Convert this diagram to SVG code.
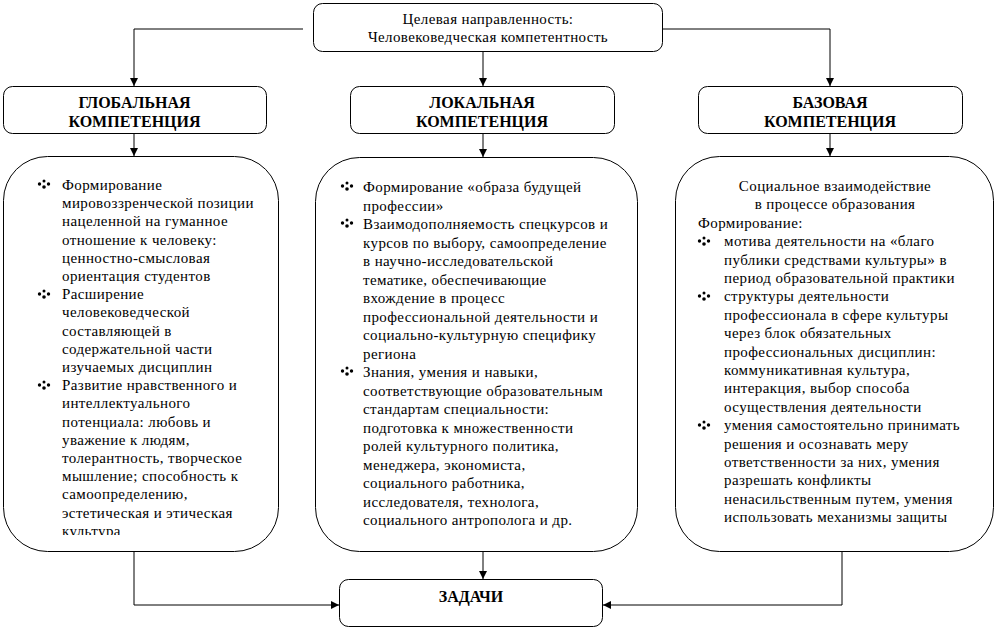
<svg xmlns="http://www.w3.org/2000/svg" width="998" height="630" viewBox="0 0 998 630">
<style>
.box{fill:#fff;stroke:#000;stroke-width:1}
.t{font-family:"Liberation Serif","Times New Roman",serif;font-size:15px;letter-spacing:0.4px;fill:#000}
.h{font-family:"Liberation Serif","Times New Roman",serif;font-size:16px;font-weight:bold;fill:#000;text-anchor:middle}
.c{text-anchor:middle}
.ln{fill:none;stroke:#000;stroke-width:1}
</style>
<defs>
<marker id="ah" markerUnits="userSpaceOnUse" markerWidth="8" markerHeight="8" refX="8" refY="4" orient="auto">
<path d="M0,0 L8,4 L0,8 z" fill="#000"/>
</marker>
<g id="bul">
<circle cx="0" cy="-3" r="1.5"/>
<circle cx="-4.5" cy="0" r="1.7"/>
<circle cx="4.5" cy="0" r="1.7"/>
<circle cx="0" cy="3" r="1.8"/>
</g>
<clipPath id="clipL"><rect x="0" y="150" width="300" height="385"/></clipPath>
</defs>
<rect width="998" height="630" fill="#fff"/>

<g id="connectors">
<path class="ln" d="M303,29 H134 V86" marker-end="url(#ah)"/>
<path class="ln" d="M483,52 V86" marker-end="url(#ah)"/>
<path class="ln" d="M651,29 H830 V86" marker-end="url(#ah)"/>
<path class="ln" d="M134,134 V156" marker-end="url(#ah)"/>
<path class="ln" d="M483,134 V157" marker-end="url(#ah)"/>
<path class="ln" d="M830,134 V156" marker-end="url(#ah)"/>
<path class="ln" d="M134,546 V605 H339" marker-end="url(#ah)"/>
<path class="ln" d="M483,546 V579" marker-end="url(#ah)"/>
<path class="ln" d="M842,546 V605 H603" marker-end="url(#ah)"/>
</g>

<g id="goal">
<rect class="box" x="313.5" y="3.5" width="349" height="48" rx="9"/>
<text class="t c" x="488" y="24">Целевая направленность:</text>
<text class="t c" x="488" y="42">Человековедческая компетентность</text>
</g>

<g id="global">
<rect class="box" x="3.5" y="86.5" width="263" height="47" rx="9"/>
<text class="h" x="134.5" y="108">ГЛОБАЛЬНАЯ</text>
<text class="h" x="134.5" y="127">КОМПЕТЕНЦИЯ</text>
</g>
<g id="local">
<rect class="box" x="350.5" y="86.5" width="264" height="47" rx="9"/>
<text class="h" x="482" y="108">ЛОКАЛЬНАЯ</text>
<text class="h" x="482" y="127">КОМПЕТЕНЦИЯ</text>
</g>
<g id="base">
<rect class="box" x="698.5" y="86.5" width="264" height="47" rx="9"/>
<text class="h" x="830" y="108">БАЗОВАЯ</text>
<text class="h" x="830" y="127">КОМПЕТЕНЦИЯ</text>
</g>

<g id="global-content">
<rect class="box" x="3.5" y="156.5" width="275" height="395" rx="44"/>
<use href="#bul" x="44" y="184"/>
<use href="#bul" x="44" y="294"/>
<use href="#bul" x="44" y="385"/>
<g clip-path="url(#clipL)">
<text class="t" x="62" y="190">Формирование</text>
<text class="t" x="62" y="208.2">мировоззренческой позиции</text>
<text class="t" x="62" y="226.4">нацеленной на гуманное</text>
<text class="t" x="62" y="244.6">отношение к человеку:</text>
<text class="t" x="62" y="262.8">ценностно-смысловая</text>
<text class="t" x="62" y="281">ориентация студентов</text>
<text class="t" x="62" y="299.2">Расширение</text>
<text class="t" x="62" y="317.4">человековедческой</text>
<text class="t" x="62" y="335.6">составляющей в</text>
<text class="t" x="62" y="353.8">содержательной части</text>
<text class="t" x="62" y="372">изучаемых дисциплин</text>
<text class="t" x="62" y="390.2">Развитие нравственного и</text>
<text class="t" x="62" y="408.4">интеллектуального</text>
<text class="t" x="62" y="426.6">потенциала: любовь и</text>
<text class="t" x="62" y="444.8">уважение к людям,</text>
<text class="t" x="62" y="463">толерантность, творческое</text>
<text class="t" x="62" y="481.2">мышление; способность к</text>
<text class="t" x="62" y="499.4">самоопределению,</text>
<text class="t" x="62" y="517.6">эстетическая и этическая</text>
<text class="t" x="62" y="535.8">культура</text>
</g>
</g>

<g id="local-content">
<rect class="box" x="315.5" y="157.5" width="322" height="394" rx="44"/>
<use href="#bul" x="347" y="186"/>
<use href="#bul" x="347" y="223"/>
<use href="#bul" x="347" y="371"/>
<text class="t" x="363" y="192">Формирование «образа будущей</text>
<text class="t" x="363" y="210.5">профессии»</text>
<text class="t" x="363" y="229">Взаимодополняемость спецкурсов и</text>
<text class="t" x="363" y="247.5">курсов по выбору, самоопределение</text>
<text class="t" x="363" y="266">в научно-исследовательской</text>
<text class="t" x="363" y="284.5">тематике, обеспечивающие</text>
<text class="t" x="363" y="303">вхождение в процесс</text>
<text class="t" x="363" y="321.5">профессиональной деятельности и</text>
<text class="t" x="363" y="340">социально-культурную специфику</text>
<text class="t" x="363" y="358.5">региона</text>
<text class="t" x="363" y="377">Знания, умения и навыки,</text>
<text class="t" x="363" y="395.5">соответствующие образовательным</text>
<text class="t" x="363" y="414">стандартам специальности:</text>
<text class="t" x="363" y="432.5">подготовка к множественности</text>
<text class="t" x="363" y="451">ролей культурного политика,</text>
<text class="t" x="363" y="469.5">менеджера, экономиста,</text>
<text class="t" x="363" y="488">социального работника,</text>
<text class="t" x="363" y="506.5">исследователя, технолога,</text>
<text class="t" x="363" y="525">социального антрополога и др.</text>
</g>

<g id="base-content">
<rect class="box" x="675.5" y="156.5" width="318" height="395" rx="44"/>
<use href="#bul" x="704" y="241"/>
<use href="#bul" x="704" y="296"/>
<use href="#bul" x="704" y="425"/>
<text class="t c" x="835" y="191">Социальное взаимодействие</text>
<text class="t c" x="835" y="209.4">в процессе образования</text>
<text class="t" x="698" y="227.8">Формирование:</text>
<text class="t" x="724" y="246.2">мотива деятельности на «благо</text>
<text class="t" x="724" y="264.6">публики средствами культуры» в</text>
<text class="t" x="724" y="283">период образовательной практики</text>
<text class="t" x="724" y="301.4">структуры деятельности</text>
<text class="t" x="724" y="319.8">профессионала в сфере культуры</text>
<text class="t" x="724" y="338.2">через блок обязательных</text>
<text class="t" x="724" y="356.6">профессиональных дисциплин:</text>
<text class="t" x="724" y="375">коммуникативная культура,</text>
<text class="t" x="724" y="393.4">интеракция, выбор способа</text>
<text class="t" x="724" y="411.8">осуществления деятельности</text>
<text class="t" x="724" y="430.2">умения самостоятельно принимать</text>
<text class="t" x="724" y="448.6">решения и осознавать меру</text>
<text class="t" x="724" y="467">ответственности за них, умения</text>
<text class="t" x="724" y="485.4">разрешать конфликты</text>
<text class="t" x="724" y="503.8">ненасильственным путем, умения</text>
<text class="t" x="724" y="522.2">использовать механизмы защиты</text>
</g>

<g id="tasks">
<rect class="box" x="339.5" y="579.5" width="263" height="47" rx="9"/>
<text class="h" x="471" y="602">ЗАДАЧИ</text>
</g>
</svg>
